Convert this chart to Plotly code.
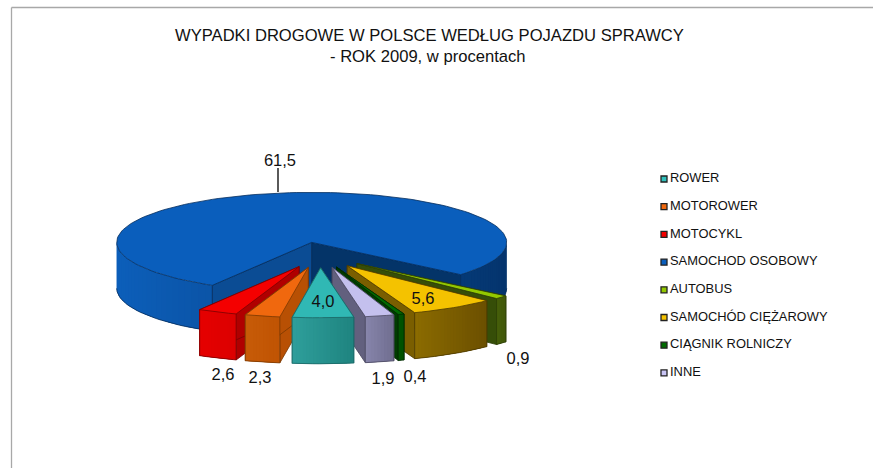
import math
import plotly.graph_objects as go

categories = ['ROWER', 'MOTOROWER', 'MOTOCYKL', 'SAMOCHOD OSOBOWY', 'AUTOBUS',
              'SAMOCHÓD CIĘŻAROWY', 'CIĄGNIK ROLNICZY', 'INNE']
values = [4.0, 2.3, 2.6, 61.5, 0.9, 5.6, 0.4, 1.9]

# face colours per slice
top_colors = ['#30b8b4', '#f0680e', '#f40000', '#0a5ebc', '#92c800', '#f4c200', '#006a00', '#c4c0ee']
legend_colors = ['#30c0bc', '#f0680e', '#f40000', '#0a5ebc', '#92c800', '#f4c200', '#006a00', '#c8c4f4']
rim_left = ['#2f9f9c', '#c85c08', '#e60000', '#0d5fba', '#46600a', '#8c6c00', '#005400', '#8886ac']
rim_right = ['#1f8480', '#c05404', '#dc0000', '#05356e', '#42580a', '#6c5000', '#005000', '#706e90']
wall_colors = ['#1f8480', '#b85004', '#b00000', '#043468', '#364e08', '#7a5e00', '#003c00', '#62607e']
edge_colors = ['#1a6664', '#7a3802', '#7a0000', '#042c5c', '#2c3e06', '#4c3a00', '#002a00', '#4a4860']
wall2_colors = ['#1f8480', '#b85004', '#b00000', '#0b4c94', '#364e08', '#7a5e00', '#003c00', '#62607e']

# projection of the tilted pie, in page pixels
CX, CY = 320, 255
RX, RY = 195, 50
DEPTH = 46
EXPLODE = 0.256
START = 80.2
DRAW_ORDER = [3, 4, 5, 6, 7, 2, 1, 0]


def mix(c1, c2, f):
    a = [int(c1[i:i + 2], 16) for i in (1, 3, 5)]
    b = [int(c2[i:i + 2], 16) for i in (1, 3, 5)]
    return 'rgb(%d,%d,%d)' % tuple(a[i] + (b[i] - a[i]) * f for i in range(3))


def face(xs, ys, color, line=None, name=None):
    return go.Scatter(x=xs, y=ys, mode='lines', fill='toself', fillcolor=color,
                      line=dict(color=line or color, width=0.8 if line else 0),
                      hoverinfo='text' if name else 'skip', text=name, showlegend=False)


def arc(cx, cy, a0, a1, dy=0):
    n = max(2, int(abs(a1 - a0) / 2) + 1)
    ang = [math.radians(a0 + (a1 - a0) * k / (n - 1)) for k in range(n)]
    return [cx + RX * math.cos(a) for a in ang], [cy + dy + RY * math.sin(a) for a in ang]


fig = go.Figure()

# slice angles come from the shares of the total
total = sum(values)
angles = [START]
for v in values:
    angles.append(angles[-1] + v / total * 360)

for i in DRAW_ORDER:
    a0, a1 = angles[i], angles[i + 1]
    mid = math.radians((a0 + a1) / 2)
    cx = CX + EXPLODE * RX * math.cos(mid)
    cy = CY + EXPLODE * RY * math.sin(mid)

    # cut faces
    for a, col in ((a0, wall2_colors[i]), (a1, wall_colors[i])):
        ex = cx + RX * math.cos(math.radians(a))
        ey = cy + RY * math.sin(math.radians(a))
        fig.add_trace(face([cx, ex, ex, cx, cx], [cy, ey, ey + DEPTH, cy + DEPTH, cy], col, edge_colors[i]))

    # outer rim: only the part turned towards the viewer
    parts = []
    for k in (0, 1):
        lo, hi = max(a0, 360 * k), min(a1, 360 * k + 180)
        if lo < hi:
            parts.append((lo, hi))
    xs_all = [cx + RX * math.cos(math.radians(a)) for p in parts for a in p]
    xmin, xmax = min(xs_all), max(xs_all)
    for lo, hi in parts:
        step = max(1.0, (hi - lo) / 24)
        a = lo
        while a < hi:
            b = min(a + step, hi)
            end = min(b + 2, hi)
            tx, ty = arc(cx, cy, a, end)
            bx, by = arc(cx, cy, end, a, DEPTH)
            xm = cx + RX * math.cos(math.radians((a + b) / 2))
            f = (xm - xmin) / max(xmax - xmin, 1)
            fig.add_trace(face(tx + bx + tx[:1], ty + by + ty[:1], mix(rim_left[i], rim_right[i], f)))
            a = b
        tx, ty = arc(cx, cy, lo, hi)
        bx, by = arc(cx, cy, lo, hi, DEPTH)
        fig.add_trace(go.Scatter(x=bx, y=by, mode='lines', line=dict(color=edge_colors[i], width=0.8),
                                 hoverinfo='skip', showlegend=False))
        # vertical edges, except where the rim just turns away
        for a, px, py, qy in ((lo, tx[0], ty[0], by[0]), (hi, tx[-1], ty[-1], by[-1])):
            if a % 180 != 0:
                fig.add_trace(go.Scatter(x=[px, px], y=[py, qy], mode='lines',
                                         line=dict(color=edge_colors[i], width=0.8),
                                         hoverinfo='skip', showlegend=False))

    # top face
    tx, ty = arc(cx, cy, a0, a1)
    fig.add_trace(face([cx] + tx + [cx], [cy] + ty + [cy], top_colors[i], edge_colors[i],
                       '%s: %s' % (categories[i], str(values[i]).replace('.', ','))))

# leader line of the big slice
fig.add_trace(go.Scatter(x=[278, 278], y=[168, 192], mode='lines', line=dict(color='#000000', width=1.3),
                         hoverinfo='skip', showlegend=False))

# data labels
label_pos = [(323, 303), (260, 378.5), (223, 375.5), (280, 161.5), (518, 359.5), (423, 300), (415, 377.5), (383, 379.5)]
fig.add_trace(go.Scatter(x=[p[0] for p in label_pos], y=[p[1] for p in label_pos], mode='text',
                         text=[('%.1f' % v).replace('.', ',') for v in values],
                         textposition='middle center', textfont=dict(size=16.5, color='#111111'),
                         hoverinfo='skip', showlegend=False))

# legend
legend_y = [179 + 27.7 * k for k in range(len(categories))]
fig.add_trace(go.Scatter(x=[664] * len(categories), y=legend_y, mode='markers',
                         marker=dict(symbol='square', size=6, color=legend_colors,
                                     line=dict(color='#222222', width=1.3)),
                         hoverinfo='skip', showlegend=False))
fig.add_trace(go.Scatter(x=[670] * len(categories), y=legend_y, mode='text', text=categories,
                         textposition='middle right', textfont=dict(size=12.9, color='#111111'),
                         hoverinfo='skip', showlegend=False))

# chart frame, open at the page edges
fig.add_shape(type='line', x0=11.5, x1=11.5, y0=7.5, y1=468, line=dict(color='#a8a8a8', width=1.3))
fig.add_shape(type='line', x0=11.5, x1=873, y0=7.5, y1=7.5, line=dict(color='#a8a8a8', width=1.3))

fig.add_annotation(x=429, y=35, text='WYPADKI DROGOWE W POLSCE WEDŁUG POJAZDU SPRAWCY', showarrow=False,
                   font=dict(size=16.6, color='#111111'))
fig.add_annotation(x=428, y=56, text='- ROK 2009, w procentach', showarrow=False,
                   font=dict(size=16.6, color='#111111'))

fig.update_layout(
    width=873, height=468, autosize=False,
    margin=dict(l=0, r=0, t=0, b=0),
    paper_bgcolor='#ffffff', plot_bgcolor='#ffffff',
    font=dict(family='Liberation Sans, Arial, sans-serif'),
    showlegend=False,
    xaxis=dict(range=[0, 873], visible=False, fixedrange=True),
    yaxis=dict(range=[468, 0], visible=False, fixedrange=True),
)

fig.write_html("out.html", config=dict(displayModeBar=False),
               post_script="document.body.style.margin='0';document.body.style.overflow='hidden';")
